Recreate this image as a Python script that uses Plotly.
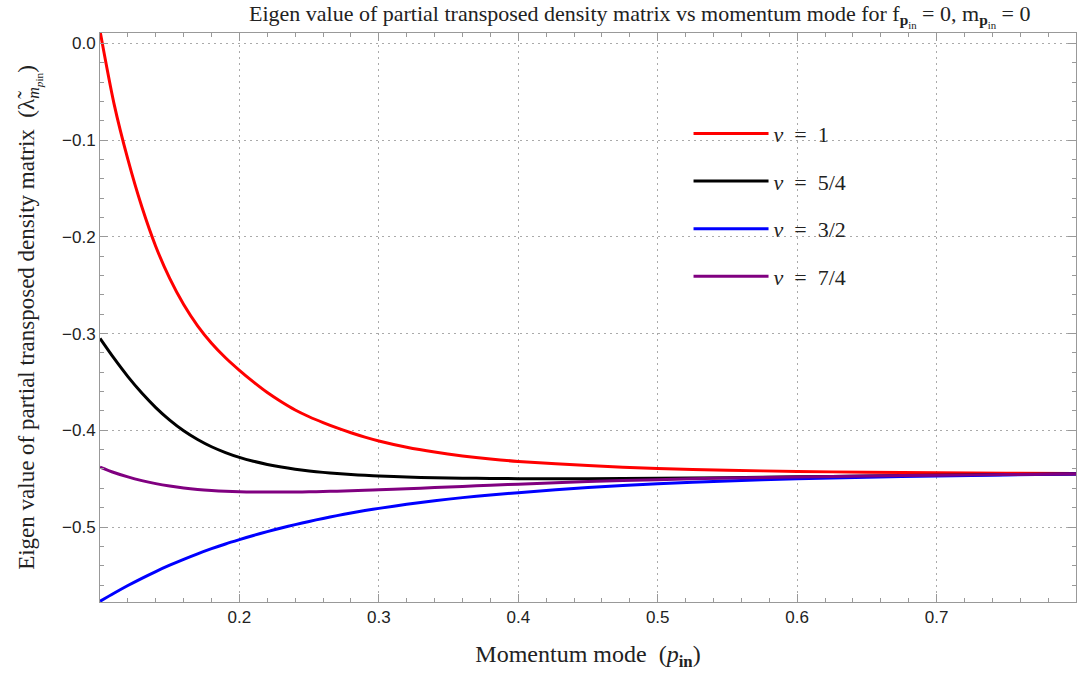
import plotly.graph_objects as go

p_in = [0.10, 0.11, 0.12, 0.13, 0.14, 0.15, 0.16, 0.17, 0.18, 0.19, 0.20,
        0.21, 0.22, 0.23, 0.24, 0.25, 0.26, 0.27, 0.28, 0.29, 0.30,
        0.32, 0.34, 0.36, 0.38, 0.40, 0.45, 0.50, 0.55, 0.60, 0.65, 0.70, 0.75, 0.80]

nu_1 = [0.013, -0.062, -0.120, -0.169, -0.210, -0.243, -0.270, -0.292, -0.310, -0.325, -0.338,
        -0.350, -0.361, -0.3705, -0.379, -0.386, -0.392, -0.3975, -0.4025, -0.407, -0.411,
        -0.4175, -0.4225, -0.4265, -0.4297, -0.4322, -0.4365, -0.4395, -0.4413, -0.4425,
        -0.4434, -0.4440, -0.4444, -0.4447]

nu_5_4 = [-0.305, -0.3255, -0.3445, -0.3615, -0.3765, -0.3895, -0.4005, -0.4095, -0.417, -0.423,
          -0.428, -0.432, -0.4353, -0.438, -0.4402, -0.442, -0.4435, -0.4447, -0.4457, -0.4466,
          -0.4473, -0.4483, -0.4490, -0.4495, -0.4498, -0.4500, -0.4501, -0.4497, -0.4490,
          -0.4481, -0.4472, -0.4464, -0.4458, -0.4453]

nu_3_2 = [-0.5768, -0.5685, -0.5605, -0.5530, -0.5460, -0.5395, -0.5334, -0.5277, -0.5224,
          -0.5175, -0.5130, -0.5087, -0.5047, -0.5010, -0.4975, -0.4942, -0.4911, -0.4882,
          -0.4855, -0.4830, -0.4807, -0.4765, -0.4728, -0.4696, -0.4669, -0.4645, -0.4592,
          -0.4553, -0.4524, -0.4502, -0.4485, -0.4472, -0.4461, -0.4453]

nu_7_4 = [-0.4380, -0.4436, -0.4482, -0.4520, -0.4551, -0.4576, -0.4596, -0.4611, -0.4622,
          -0.4630, -0.4635, -0.4638, -0.4639, -0.4639, -0.4638, -0.4636, -0.4633, -0.4629,
          -0.4625, -0.4620, -0.4615, -0.4604, -0.4592, -0.4580, -0.4568, -0.4557, -0.4530,
          -0.4510, -0.4494, -0.4482, -0.4472, -0.4464, -0.4458, -0.4453]

series = [
    ("<i>ν</i>\u2002=\u20021", nu_1, "#ff0000"),
    ("<i>ν</i>\u2002=\u20025/4", nu_5_4, "#000000"),
    ("<i>ν</i>\u2002=\u20023/2", nu_3_2, "#0000ff"),
    ("<i>ν</i>\u2002=\u20027/4", nu_7_4, "#800080"),
]

x_ticks = [0.2, 0.3, 0.4, 0.5, 0.6, 0.7]
y_ticks = [0.0, -0.1, -0.2, -0.3, -0.4, -0.5]

serif = "Liberation Serif, DejaVu Serif, serif"
sans = "Liberation Sans, Arial, sans-serif"

fig = go.Figure()
for i, (name, ys, col) in enumerate(series):
    fig.add_trace(go.Scatter(
        x=p_in, y=ys, mode="lines", name=name,
        line=dict(color=col, width=3, shape="spline", smoothing=0.8),
        legendgroup=f"g{i}",
    ))

axis_common = dict(
    showline=True, linecolor="#999999", linewidth=1, mirror="ticks",
    ticks="inside", ticklen=8, tickcolor="#999999", tickwidth=1,
    showgrid=True, gridcolor="#aaaaaa", griddash="2px,4px", gridwidth=1,
    zeroline=False,
    tickfont=dict(family=sans, size=17, color="#222222"),
)

fig.update_xaxes(
    range=[0.1, 0.8], tickmode="array", tickvals=x_ticks,
    ticktext=[f"{v:.1f}" for v in x_ticks],
    minor=dict(tickmode="linear", tick0=0.1, dtick=0.02, ticklen=4,
               tickcolor="#999999", ticks="inside", showgrid=False),
    title=dict(text="Momentum mode  (<i>p</i><sub><b>in</b></sub>)",
               font=dict(family=serif, size=24, color="#222222"), standoff=18),
    **axis_common,
)
fig.update_yaxes(
    range=[-0.5775, 0.0107], tickmode="array", tickvals=y_ticks,
    ticktext=["0.0" if v == 0 else f"\u2212{abs(v):.1f}" for v in y_ticks],
    minor=dict(tickmode="linear", tick0=0.0, dtick=0.02, ticklen=4,
               tickcolor="#999999", ticks="inside", showgrid=False),
    title=dict(text="Eigen value of partial transposed density matrix  (λ\u0303<sub><i>m</i><sub><i>p</i>in</sub></sub>)",
               font=dict(family=serif, size=23, color="#222222"), standoff=20),
    **axis_common,
)

fig.update_layout(
    width=1077, height=677,
    margin=dict(l=100, r=1, t=33, b=75),
    paper_bgcolor="white", plot_bgcolor="white",
    title=dict(
        text="Eigen value of partial transposed density matrix vs momentum mode for f<sub><b>p</b><sub>in</sub></sub> = 0, m<sub><b>p</b><sub>in</sub></sub> = 0",
        font=dict(family=serif, size=22, color="#222222"),
        x=0.594, xanchor="center", y=0.992, yanchor="top",
    ),
    legend=dict(
        x=0.603, y=0.86, xanchor="left", yanchor="top",
        font=dict(family=serif, size=22, color="#222222"),
        bgcolor="rgba(0,0,0,0)", tracegroupgap=16, itemwidth=75,
    ),
    showlegend=True,
)

fig.write_html("out.html")
